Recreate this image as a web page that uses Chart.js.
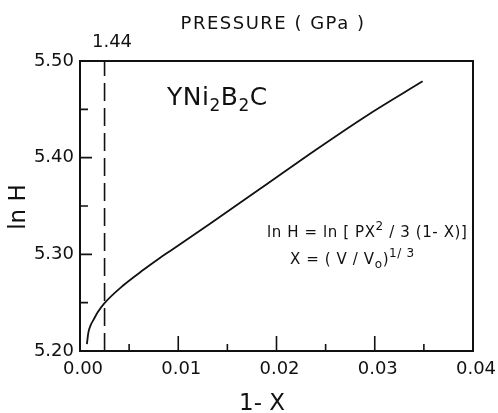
<!DOCTYPE html>
<html>
<head>
<meta charset="utf-8">
<script src="https://cdn.jsdelivr.net/npm/chart.js@4.4.1/dist/chart.umd.min.js"></script>
<style>
  html, body { margin: 0; padding: 0; background: #fff; }
  #wrap { width: 498px; height: 413px; }
</style>
</head>
<body>
<div id="wrap"><canvas id="c" width="498" height="413"></canvas></div>
<script>
// ---- data ----
const oneMinusX = [0.0007, 0.00085, 0.0011, 0.00136, 0.0018, 0.00245, 0.00442, 0.00646, 0.00816, 0.00918, 0.01327, 0.01837, 0.02398, 0.02926, 0.03487];
const lnH       = [5.207,  5.219,   5.227,  5.232,   5.240,  5.249,   5.268,   5.284,   5.2965,  5.3035,  5.332,   5.368,   5.408,   5.444,   5.479];
const markerX   = [0.0025, 0.0025];
const markerY   = [5.20, 5.50];
const xTicks    = [0.00, 0.01, 0.02, 0.03, 0.04];
const yTicks    = [5.20, 5.30, 5.40, 5.50];
const xMinor    = [0.005, 0.015, 0.025, 0.035];
const yMinor    = [5.25, 5.35, 5.45];
const xInner    = [0.01, 0.02, 0.03];
const yInner    = [5.30, 5.40];
const pressureTick = "1.44";
const titleText = "PRESSURE ( GPa )";
const xTitle = "1- X";
const yTitle = "ln H";

const FONT = "'DejaVu Sans', sans-serif";

const decor = {
  id: 'decor',
  beforeDraw(chart) {
    const c = chart.ctx;
    c.save();
    c.fillStyle = '#fff';
    c.fillRect(0, 0, chart.width, chart.height);
    c.restore();
  },
  afterDraw(chart) {
    const c = chart.ctx;
    const a = chart.chartArea;
    const xs = chart.scales.x, ys = chart.scales.y;
    c.save();
    c.strokeStyle = '#111';
    c.fillStyle = '#111';
    // frame
    c.lineWidth = 2;
    c.strokeRect(a.left, a.top, a.right - a.left, a.bottom - a.top);
    // inward ticks
    c.lineWidth = 1.6;
    c.beginPath();
    xInner.forEach(v => { const p = xs.getPixelForValue(v); c.moveTo(p, a.bottom); c.lineTo(p, a.bottom - 15); });
    xMinor.forEach(v => { const p = xs.getPixelForValue(v); c.moveTo(p, a.bottom); c.lineTo(p, a.bottom - 7); });
    yInner.forEach(v => { const p = ys.getPixelForValue(v); c.moveTo(a.left, p); c.lineTo(a.left + 12, p); });
    yMinor.forEach(v => { const p = ys.getPixelForValue(v); c.moveTo(a.left, p); c.lineTo(a.left + 8, p); });
    c.stroke();

    c.textBaseline = 'alphabetic';
    // title
    c.font = "18px " + FONT;
    c.letterSpacing = '1.5px';
    c.textAlign = 'center';
    c.fillText(titleText, 273, 29);
    c.letterSpacing = '0px';
    // top pressure tick label
    c.font = "18px " + FONT;
    c.fillText(pressureTick, 112, 47);
    // x title
    c.font = "23px " + FONT;
    c.fillText(xTitle, 262, 410);
    // y title
    c.save();
    c.translate(25, 207);
    c.rotate(-Math.PI / 2);
    c.fillText(yTitle, 0, 0);
    c.restore();

    // compound name with subscripts
    c.textAlign = 'left';
    const drawRuns = (runs, x, y, ls) => {
      c.letterSpacing = (ls || 0) + 'px';
      runs.forEach(r => {
        c.font = r.size + "px " + FONT;
        c.fillText(r.t, x, y + (r.dy || 0));
        x += c.measureText(r.t).width;
      });
      c.letterSpacing = '0px';
    };
    drawRuns([
      {t: 'YNi', size: 25}, {t: '2', size: 17, dy: 6},
      {t: 'B', size: 25}, {t: '2', size: 17, dy: 6},
      {t: 'C', size: 25}
    ], 167, 105, 0.5);

    drawRuns([
      {t: 'ln H = ln [ PX', size: 15}, {t: '2', size: 12, dy: -7},
      {t: ' / 3 (1- X)]', size: 15}
    ], 267, 237, 0.6);
    drawRuns([
      {t: 'X = ( V / V', size: 15}, {t: 'o', size: 12, dy: 4},
      {t: ')', size: 15}, {t: '1/ 3', size: 12, dy: -7}
    ], 290, 264, 0.6);
    c.restore();
  }
};

new Chart(document.getElementById('c'), {
  type: 'line',
  data: {
    datasets: [
      {
        label: 'ln H',
        data: oneMinusX.map((v, i) => ({x: v, y: lnH[i]})),
        borderColor: '#111',
        borderWidth: 1.8,
        pointRadius: 0,
        cubicInterpolationMode: 'monotone',
        fill: false
      },
      {
        label: 'P = 1.44 GPa',
        data: markerX.map((v, i) => ({x: v, y: markerY[i]})),
        borderColor: '#111',
        borderWidth: 1.6,
        borderDash: [18, 7],
        pointRadius: 0,
        fill: false
      }
    ]
  },
  options: {
    responsive: false,
    animation: false,
    devicePixelRatio: 1,
    layout: { padding: { top: 61, right: 25, left: 0, bottom: 0 } },
    plugins: { legend: { display: false }, tooltip: { enabled: false }, title: { display: false } },
    scales: {
      x: {
        type: 'linear', min: 0, max: 0.04,
        afterBuildTicks: s => { s.ticks = xTicks.map(v => ({value: v})); },
        afterFit: s => { s.height = 62; s.paddingLeft = 0; s.paddingRight = 0; },
        grid: { display: false, drawTicks: false },
        border: { display: false },
        ticks: { padding: 8, labelOffset: 3, color: '#111', font: { family: FONT, size: 18 }, maxRotation: 0,
                 callback: v => Number(v).toFixed(2) }
      },
      y: {
        type: 'linear', min: 5.20, max: 5.50,
        afterBuildTicks: s => { s.ticks = yTicks.map(v => ({value: v})); },
        afterFit: s => { s.width = 80; s.paddingTop = 0; s.paddingBottom = 0; },
        grid: { display: false, drawTicks: false },
        border: { display: false },
        ticks: { padding: 6, color: '#111', font: { family: FONT, size: 18 },
                 callback: v => Number(v).toFixed(2) }
      }
    }
  },
  plugins: [decor]
});
</script>
</body>
</html>
